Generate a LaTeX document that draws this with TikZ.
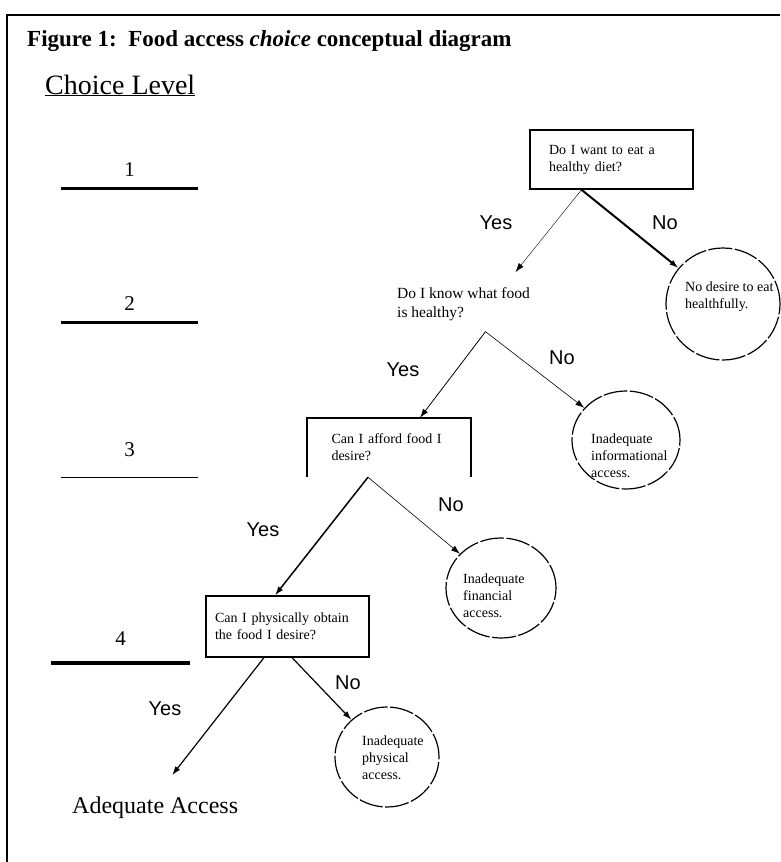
\documentclass[tikz,border=0pt]{standalone}
\usepackage{fontspec}
\setmainfont{Liberation Serif}
\newfontfamily\arialfont{Liberation Sans}
\usepackage{tikz}
\usetikzlibrary{arrows.meta,positioning,calc,shapes.geometric}

\begin{document}
\begin{tikzpicture}[x=1pt,y=-1pt,>={Latex[length=9pt,width=6pt]},
  qbox/.style={draw,align=left,inner ysep=0pt,font=\fontsize{14}{17}\selectfont},
  outcome/.style={ellipse,draw,dash pattern=on 24pt off 2.5pt,line width=1.2pt,inner sep=0pt},
  outtext/.style={anchor=west,align=left,inner sep=0pt,font=\fontsize{14}{17}\selectfont},
  yn/.style={inner sep=0pt,font=\arialfont\fontsize{20}{24}\selectfont},
  lvl/.style={anchor=base,inner sep=0pt,font=\fontsize{21}{25}\selectfont}]
  \useasboundingbox (0,0) rectangle (780,862);
  \draw[line width=2pt] (7,862) -- (7,15) -- (780,15);
  \node[anchor=base west,inner sep=0pt,font=\fontsize{23}{27}\selectfont\bfseries] (title) at (27,46) {Figure 1:\ \ Food access \textit{choice} conceptual diagram};
  \node[anchor=base west,inner sep=0pt,font=\fontsize{28}{32}\selectfont] (levels) at (45,94) {\underline{Choice Level}};
  \foreach \lv/\xa/\xb/\yl/\yt/\lw in {1/61/198/188/176/3,2/61/198/322/310/3,3/61/198/477/456/1,4/51/190/663/645/3.5}{
    \draw[line width=\lw pt] (\xa,\yl) -- (\xb,\yl);
    \node[lvl] (lv\lv) at ({(\xa+\xb)/2},\yt) {\lv};
  }
  \node[qbox,line width=1.5pt,text width=125pt,inner xsep=19pt,minimum height=59pt] (q1) at (611.5,159.5) {Do I want to eat a\\healthy diet?};
  \node[anchor=north west,align=left,inner sep=0pt,font=\fontsize{15.5}{19}\selectfont] (q2) at (397,287) {Do I know what food\\is healthy?};
  \node[qbox,draw=none,text width=115pt,inner xsep=24.5pt,minimum height=59pt] (q3) at (389,447.5) {Can I afford food I\\desire?};
  \draw[line width=1.5pt] (q3.south west) -- (q3.north west) -- (q3.north east) -- (q3.south east);
  \node[qbox,line width=1.2pt,text width=145pt,inner xsep=9pt,minimum height=61pt] (q4) at (287.5,626.5) {Can I physically obtain\\the food I desire?};
  \node[anchor=base west,inner sep=0pt,font=\fontsize{24}{28}\selectfont] (acc) at (72,813) {Adequate Access};
  \node[outcome,minimum width=114pt,minimum height=112pt] (c1) at (723,304) {};
  \node[outtext] (t1) at (685,297) {No desire to eat\\healthfully.};
  \node[outcome,minimum width=108pt,minimum height=98pt] (c2) at (626,440) {};
  \node[outtext] (t2) at (591,456) {Inadequate\\informational\\access.};
  \node[outcome,minimum width=110pt,minimum height=100pt] (c3) at (501,588) {};
  \node[outtext] (t3) at (463,596) {Inadequate\\financial\\access.};
  \node[outcome,minimum width=104pt,minimum height=100pt] (c4) at (387,757) {};
  \node[outtext] (t4) at (362,758) {Inadequate\\physical\\access.};
  \draw[->,line width=0.4pt] ($(q1.south)+(-30,0)$) -- ($(q2.north)+(52,-15)$);
  \draw[->,line width=2pt] ($(q1.south)+(-30,0)$) -- (c1);
  \draw[->,line width=0.8pt] ($(q2.south)+(22,11)$) -- ($(q3.north)+(31,0)$);
  \draw[->,line width=0.6pt] ($(q2.south)+(22,11)$) -- (c2);
  \draw[->,line width=1.5pt] ($(q3.south)+(-21,0)$) -- ($(q4.north)+(-12.5,0)$);
  \draw[->,line width=0.6pt] ($(q3.south)+(-21,0)$) -- (c3);
  \draw[->,line width=1.2pt] ($(q4.south)+(-23.5,0)$) -- ($(acc.north)+(17,-21)$);
  \draw[->,line width=1.2pt] ($(q4.south)+(4.5,0)$) -- (c4);
  \node[yn] (y1) at (496,223) {Yes};
  \node[yn] (n1) at (665,223) {No};
  \node[yn] (y2) at (403,370) {Yes};
  \node[yn] (n2) at (562,358) {No};
  \node[yn] (y3) at (263,530) {Yes};
  \node[yn] (n3) at (451,505) {No};
  \node[yn] (y4) at (165,709) {Yes};
  \node[yn] (n4) at (348,683) {No};
\end{tikzpicture}
\end{document}
